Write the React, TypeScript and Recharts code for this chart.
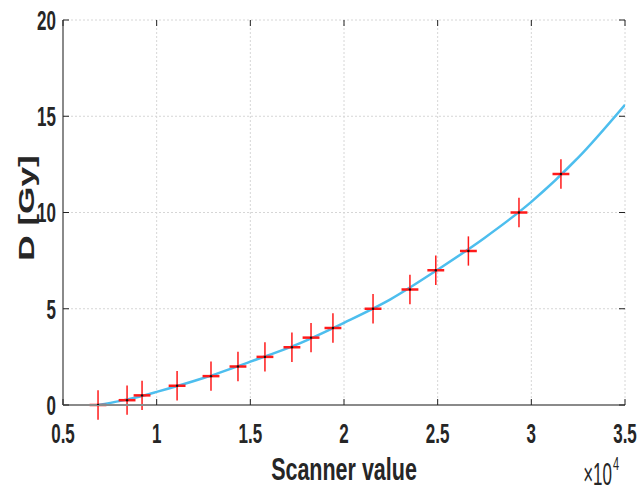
import React from 'react';
import {
  ComposedChart,
  Line,
  Scatter,
  ErrorBar,
  XAxis,
  YAxis,
  CartesianGrid,
  Label,
} from 'recharts';

// measured points (scanner value in units of 1e4)
const scannerValue = [0.687, 0.842, 0.922, 1.109, 1.29, 1.434, 1.578, 1.722, 1.824, 1.941, 2.155, 2.352, 2.49, 2.664, 2.934, 3.158];
const dose = [0, 0.25, 0.5, 1, 1.5, 2, 2.5, 3, 3.5, 4, 5, 6, 7, 8, 10, 12];
const doseErr = 0.76;
const scannerErr = 0.045;

// fitted calibration curve
const fitX = [0.687, 0.8, 0.9, 1.0, 1.25, 1.5, 1.75, 2.0, 2.25, 2.5, 2.75, 3.0, 3.25, 3.5];
const fitY = [0, 0.2, 0.42, 0.68, 1.4, 2.25, 3.15, 4.27, 5.5, 7.03, 8.68, 10.55, 12.85, 15.6];

const xTicks = [0.5, 1, 1.5, 2, 2.5, 3, 3.5];
const yTicks = [0, 5, 10, 15, 20];

const points = scannerValue.map((x, i) => ({ x, y: dose[i], ex: scannerErr, ey: doseErr }));
const curve = fitX.map((x, i) => ({ x, y: fitY[i] }));

const W = 641;
const H = 490;
const TOP = 20;
const LEFT = 63;
const RIGHT = 625;
const TICK_MARGIN = 7;
const FONT = '"Liberation Sans", Arial, Helvetica, sans-serif';
const BOX = '#8a8a8a';

function XTick({ x, y, payload }: any) {
  const axisY = y - TICK_MARGIN;
  return (
    <g>
      <line x1={x} x2={x} y1={axisY} y2={axisY - 6} stroke="#222" strokeWidth={1} />
      <line x1={x} x2={x} y1={TOP} y2={TOP + 6} stroke="#222" strokeWidth={1} />
      <text
        transform={`translate(${x},${axisY + 38}) scale(1,1.65)`}
        textAnchor="middle"
        fontFamily={FONT}
        fontWeight="bold"
        fontSize={17}
        fill="#262626"
      >
        {String(payload.value)}
      </text>
    </g>
  );
}

function YTick({ x, y, payload }: any) {
  const axisX = x + TICK_MARGIN;
  return (
    <g>
      <line x1={axisX} x2={axisX + 6} y1={y} y2={y} stroke="#222" strokeWidth={1} />
      <line x1={RIGHT} x2={RIGHT - 6} y1={y} y2={y} stroke="#222" strokeWidth={1} />
      <text
        transform={`translate(${axisX - 7},${y}) scale(1,1.63)`}
        textAnchor="end"
        dy="0.358em"
        fontFamily={FONT}
        fontWeight="bold"
        fontSize={17}
        fill="#262626"
      >
        {String(payload.value)}
      </text>
    </g>
  );
}

function XLabel({ viewBox }: any) {
  const cx = viewBox.x + viewBox.width / 2;
  return (
    <g>
      <text
        transform={`translate(${cx},480) scale(1,1.42)`}
        textAnchor="middle"
        fontFamily={FONT}
        fontWeight="bold"
        fontSize={21.5}
        fill="#262626"
      >
        Scanner value
      </text>
      <text
        transform={`translate(612,485) scale(1,1.8)`}
        textAnchor="end"
        fontFamily={FONT}
        fontSize={17}
        fill="#262626"
      >
        ×10
      </text>
      <text
        transform={`translate(613,470) scale(1,1.7)`}
        fontFamily={FONT}
        fontSize={11}
        fill="#262626"
      >
        4
      </text>
    </g>
  );
}

function YLabel() {
  return (
    <text
      transform={`translate(34,208) rotate(-90) scale(1.6,1)`}
      textAnchor="middle"
      fontFamily={FONT}
      fontWeight="bold"
      fontSize={22}
      fill="#262626"
    >
      D [Gy]
    </text>
  );
}

function Dot({ cx, cy }: any) {
  return <circle cx={cx} cy={cy} r={1.2} fill="#111" />;
}

export default function App() {
  return (
    <div style={{ position: 'absolute', left: 0, top: 0, width: W, height: H, background: '#fff' }}>
      <ComposedChart width={W} height={H} margin={{ top: TOP, right: W - RIGHT, left: 0, bottom: 0 }}>
        <CartesianGrid stroke="#d6d6d6" strokeDasharray="2 2" />
        <XAxis
          dataKey="x"
          type="number"
          domain={[0.5, 3.5]}
          ticks={xTicks}
          height={H - 405}
          tickSize={0}
          tickMargin={TICK_MARGIN}
          tickLine={false}
          axisLine={{ stroke: BOX, strokeWidth: 2 }}
          tick={<XTick />}
          allowDataOverflow
        >
          <Label content={(p: any) => <XLabel {...p} />} />
        </XAxis>
        <XAxis
          xAxisId="top"
          orientation="top"
          type="number"
          domain={[0.5, 3.5]}
          height={0}
          tick={false}
          tickLine={false}
          axisLine={{ stroke: BOX, strokeWidth: 2 }}
        />
        <YAxis
          type="number"
          domain={[0, 20]}
          ticks={yTicks}
          width={LEFT}
          tickSize={0}
          tickMargin={TICK_MARGIN}
          tickLine={false}
          axisLine={{ stroke: BOX, strokeWidth: 2 }}
          tick={<YTick />}
          allowDataOverflow
        >
          <Label content={() => <YLabel />} />
        </YAxis>
        <YAxis
          yAxisId="right"
          orientation="right"
          type="number"
          domain={[0, 20]}
          width={0}
          tick={false}
          tickLine={false}
          axisLine={{ stroke: BOX, strokeWidth: 2 }}
        />
        <Line
          data={curve}
          dataKey="y"
          type="monotone"
          stroke="#4DBEEE"
          strokeWidth={2.5}
          dot={false}
          activeDot={false}
          isAnimationActive={false}
        />
        <Scatter data={points} dataKey="y" shape={<Dot />} isAnimationActive={false}>
          <ErrorBar dataKey="ey" direction="y" width={0} stroke="#ff1a1a" strokeWidth={1.5} />
          <ErrorBar dataKey="ex" direction="x" width={0} stroke="#ff1a1a" strokeWidth={2.5} />
        </Scatter>
      </ComposedChart>
    </div>
  );
}
